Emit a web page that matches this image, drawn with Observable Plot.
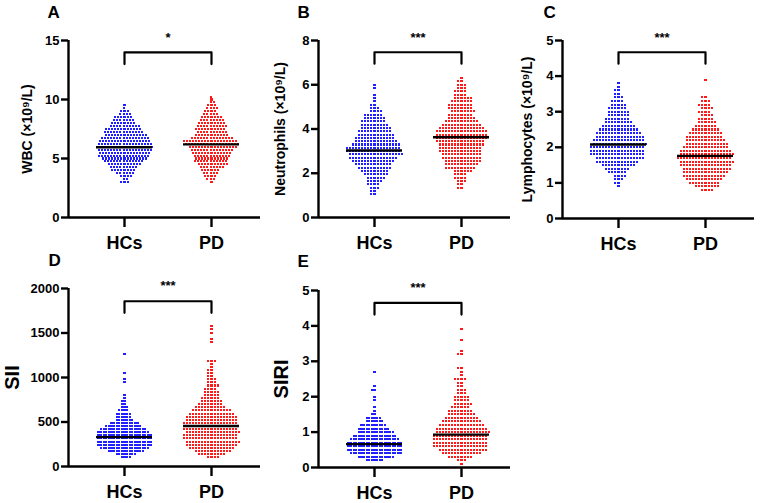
<!DOCTYPE html>
<html><head><meta charset="utf-8">
<script src="https://cdn.jsdelivr.net/npm/d3@7"></script>
<script src="https://cdn.jsdelivr.net/npm/@observablehq/plot@0.6"></script>
<style>
body{margin:0;background:#fff;}
#chart{position:relative;width:767px;height:503px;background:#fff;overflow:hidden;}
#chart svg{position:absolute;overflow:visible;}
#chart g[aria-label="y-axis tick label"]{font-weight:bold;font-size:13px;fill:#000;}
#chart g[aria-label="x-axis tick label"]{font-weight:bold;font-size:18px;fill:#000;}
#chart g[aria-label="y-axis tick"], #chart g[aria-label="x-axis tick"]{stroke:#000;stroke-width:2.4px;}
</style></head><body><div id="chart"></div>
<script>
const groups = ["HCs", "PD"];

// ---- A: WBC (binned rows of the scatter, counts per row)
const wbcLevels = [2.75,3,3.25,3.5,3.75,4,4.25,4.5,4.75,5,5.25,5.5,5.75,6,6.25,6.5,6.75,7,7.25,7.5,7.75,8,8.25,8.5,8.75,9,9.25,9.5,9.75,10,10.25];
const wbcHCs = [0,3,2,4,6,8,9,11,13,15,17,17,18,18,18,17,16,14,13,12,10,8,7,6,4,3,1,1,0,0,0];
const wbcPD  = [0,1,3,4,5,6,8,10,11,11,12,13,14,16,18,18,14,11,10,10,10,9,8,7,5,4,4,3,2,1,1];
const wbcMedians = [5.95, 6.2];
const wbcTicks = [0, 5, 10, 15];
const wbcBracket = [13.0, 14.0];

// ---- B: Neutrophils
const neuLevels = [1.05,1.2,1.35,1.5,1.65,1.8,1.95,2.1,2.25,2.4,2.55,2.7,2.85,3,3.15,3.3,3.45,3.6,3.75,3.9,4.05,4.2,4.35,4.5,4.65,4.8,4.95,5.1,5.25,5.4,5.55,5.7,5.85,6,6.15,6.3,6.45];
const neuHCs = [2,2,3,4,5,6,8,9,11,12,14,16,18,18,18,16,14,13,12,11,10,9,8,7,6,4,3,2,1,1,1,0,1,1,0,0,0];
const neuPD  = [0,0,2,2,3,4,4,6,10,11,12,13,13,14,14,15,16,17,17,17,15,13,11,9,8,8,8,8,7,6,4,4,3,3,2,1,0];
const neuMedians = [3.03, 3.63];
const neuTicks = [0, 2, 4, 6, 8];
const neuBracket = [6.95, 7.47];

// ---- C: Lymphocytes
const lymLevels = [0.8,0.9,1,1.1,1.2,1.3,1.4,1.5,1.6,1.7,1.8,1.9,2,2.1,2.2,2.3,2.4,2.5,2.6,2.7,2.8,2.9,3,3.1,3.2,3.3,3.4,3.5,3.6,3.7,3.8,3.9];
const lymHCs = [0,1,2,3,4,6,8,11,14,16,18,18,18,18,17,16,15,13,11,9,8,7,7,6,5,4,3,2,2,1,1,0];
const lymPD  = [4,8,10,12,14,15,16,17,18,18,18,17,15,14,13,12,11,9,7,6,5,4,4,4,4,3,2,0,0,0,0,1];
const lymMedians = [2.08, 1.76];
const lymTicks = [0, 1, 2, 3, 4, 5];
const lymBracket = [4.35, 4.67];

// ---- D: SII
const siiLevels = [105,140,175,210,245,280,315,350,385,420,455,490,525,560,595,630,665,700,735,770,805,840,875,910,945,980,1015,1050,1085,1120,1155,1190,1225,1260,1295,1330,1365,1400,1435,1470,1505,1540,1575];
const siiHCs = [4,8,14,19,21,21,21,21,20,18,14,11,7,6,6,4,3,2,2,1,1,0,0,0,1,1,0,1,0,0,0,0,0,1,0,0,0,0,0,0,0,0,0];
const siiPD  = [4,9,12,15,17,18,18,18,18,18,18,18,17,17,15,13,10,8,7,6,5,5,4,4,3,3,2,2,2,1,1,3,0,0,0,0,0,1,1,0,1,1,1];
const siiMedians = [330, 455];
const siiTicks = [0, 500, 1000, 1500, 2000];
const siiBracket = [1727, 1857];

// ---- E: SIRI
const siriLevels = [0.1,0.2,0.3,0.4,0.5,0.6,0.7,0.8,0.9,1,1.1,1.2,1.3,1.4,1.5,1.6,1.7,1.8,1.9,2,2.1,2.2,2.3,2.4,2.5,2.6,2.7,2.8,2.9,3,3.1,3.2,3.3,3.4,3.5,3.6,3.7,3.8,3.9];
const siriHCs = [0,7,14,20,21,21,21,19,17,14,12,10,7,6,2,1,1,0,1,1,0,2,1,0,0,0,1,0,0,0,0,0,0,0,0,0,0,0,0];
const siriPD  = [1,3,8,13,16,18,18,18,18,18,17,15,13,11,9,8,6,6,5,5,3,3,2,2,4,1,1,2,0,0,0,2,1,0,0,1,0,0,1];
const siriMedians = [0.66, 0.93];
const siriTicks = [0, 1, 2, 3, 4, 5];
const siriBracket = [4.32, 4.65];

// ---- layout & styles (not data)
const BLUE = "#1f1fff", RED = "#ff1a1a";
const FONT = "'Liberation Sans', Arial, Helvetica, sans-serif";
const W = 262, ML = 68, MR = 2, INSET_L = 56, INSET_R = 49, HALF_MEDIAN = 28;
const DOT_R = 1.15, AXIS_W = 2.4;
const hcsX = ML + INSET_L, pdX = W - MR - INSET_R, midX = (ML + W - MR) / 2;

const panels = [
  {letter: "A", label: "WBC (×10⁹/L)", levels: wbcLevels, hcs: wbcHCs, pd: wbcPD, medians: wbcMedians, ticks: wbcTicks, bracket: wbcBracket, sig: "*",
   left: 0, top: 0, height: 250, mt: 40, mb: 33, labelDx: -40.5, labelSize: 14, letterDx: -21, letterDy: -28, padH: 0.8, padP: 0.8},
  {letter: "B", label: "Neutrophils (×10⁹/L)", levels: neuLevels, hcs: neuHCs, pd: neuPD, medians: neuMedians, ticks: neuTicks, bracket: neuBracket, sig: "***",
   left: 250, top: 0, height: 250, mt: 40, mb: 33, labelDx: -37.5, labelSize: 14, letterDx: -21, letterDy: -28, padH: 0.8, padP: 0.8},
  {letter: "C", label: "Lymphocytes (×10⁹/L)", levels: lymLevels, hcs: lymHCs, pd: lymPD, medians: lymMedians, ticks: lymTicks, bracket: lymBracket, sig: "***",
   left: 494, top: 0, height: 250, mt: 40, mb: 32, labelDx: -34.5, labelSize: 14, letterDx: -19, letterDy: -28, padH: 0.8, padP: 0.8},
  {letter: "D", label: "SII", levels: siiLevels, hcs: siiHCs, pd: siiPD, medians: siiMedians, ticks: siiTicks, bracket: siiBracket, sig: "***",
   left: 0, top: 250, height: 253, mt: 38, mb: 37, labelDx: -56, labelSize: 20, letterDx: -20, letterDy: -27.5, padH: 0.3, padP: 0.8},
  {letter: "E", label: "SIRI", levels: siriLevels, hcs: siriHCs, pd: siriPD, medians: siriMedians, ticks: siriTicks, bracket: siriBracket, sig: "***",
   left: 250, top: 250, height: 253, mt: 40, mb: 36, labelDx: -36.5, labelSize: 20, letterDx: -21, letterDy: -29, padH: 0.3, padP: 0.8}
];

const expand = (levels, counts) => levels.flatMap((v, i) => Array(counts[i]).fill(v));

const chart = document.getElementById("chart");
for (const p of panels) {
  const ymax = p.ticks[p.ticks.length - 1];
  const medianRows = groups.map((g, i) => ({g, m: p.medians[i]}));
  const bracketRows = [
    {g: groups[0], v: p.bracket[0]}, {g: groups[0], v: p.bracket[1]},
    {g: groups[1], v: p.bracket[1]}, {g: groups[1], v: p.bracket[0]}
  ];
  let svg;
  try {
  svg = Plot.plot({
    width: W, height: p.height,
    marginLeft: ML, marginRight: MR, marginTop: p.mt, marginBottom: p.mb,
    style: {fontFamily: FONT, background: "transparent", overflow: "visible", color: "#000"},
    x: {type: "point", domain: groups, padding: 0, insetLeft: INSET_L, insetRight: INSET_R},
    y: {domain: [0, ymax]},
    marks: [
      Plot.dot(expand(p.levels, p.hcs), Plot.dodgeX({anchor: "middle", padding: p.padH},
        {y: d => d, r: DOT_R, symbol: "square", fill: BLUE, dx: hcsX - midX, shapeRendering: "crispEdges"})),
      Plot.dot(expand(p.levels, p.pd), Plot.dodgeX({anchor: "middle", padding: p.padP},
        {y: d => d, r: DOT_R, symbol: "square", fill: RED, dx: pdX - midX, shapeRendering: "crispEdges"})),
      Plot.ruleY(medianRows, {x1: "g", x2: "g", y: "m", stroke: "#000", strokeWidth: 2.4, insetLeft: -HALF_MEDIAN, insetRight: -HALF_MEDIAN}),
      Plot.line(bracketRows, {x: "g", y: "v", stroke: "#000", strokeWidth: 2.2}),
      Plot.text([p.sig], {frameAnchor: "top", text: d => d, dx: (hcsX + pdX) / 2 - midX, dy: -3, lineAnchor: "middle", fontSize: 13, fontWeight: "bold"}),
      Plot.axisY({ticks: p.ticks, tickFormat: "d", tickSize: 7, tickPadding: 2, fontSize: 13, fontWeight: "bold", stroke: "#000", strokeWidth: AXIS_W, label: null}),
      Plot.axisX({tickSize: 10, tickPadding: 8.5, fontSize: 18, fontWeight: "bold", stroke: "#000", strokeWidth: AXIS_W, label: null}),
      Plot.ruleX([groups[0]], {x: d => d, dx: -INSET_L, stroke: "#000", strokeWidth: AXIS_W}),
      Plot.ruleY([0], {stroke: "#000", strokeWidth: AXIS_W}),
      Plot.text([p.label], {frameAnchor: "left", text: d => d, rotate: -90, dx: p.labelDx, textAnchor: "middle", lineAnchor: "middle", fontSize: p.labelSize, fontWeight: "bold"}),
      Plot.text([p.letter], {frameAnchor: "top-left", text: d => d, dx: p.letterDx, dy: p.letterDy, textAnchor: "start", lineAnchor: "middle", fontSize: 17, fontWeight: "bold"})
    ]
  });
  } catch (e) { console.error(p.letter, e.message); continue; }
  svg.style.left = p.left + "px";
  svg.style.top = p.top + "px";
  chart.appendChild(svg);
}
</script></body></html>
